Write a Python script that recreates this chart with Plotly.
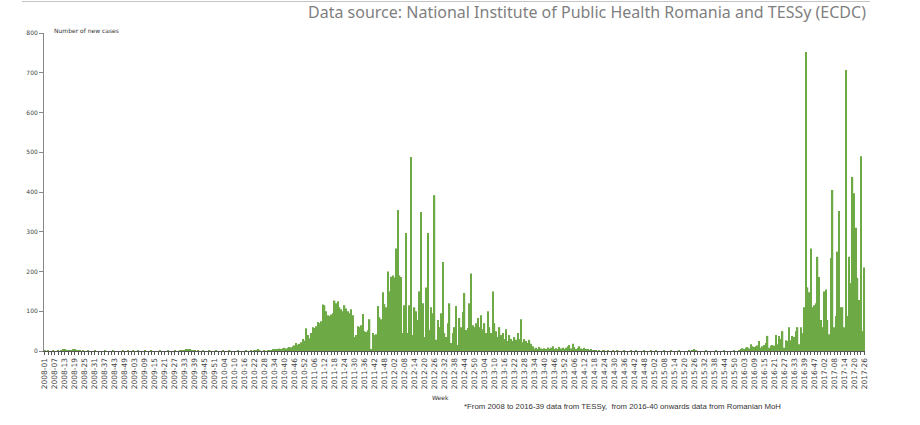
import plotly.graph_objects as go

# ---- categories (ISO weeks as shown on the axis) ----
weeks_per_year = {2008: 52, 2009: 53, 2010: 52, 2011: 52, 2012: 52, 2013: 52, 2014: 52, 2015: 53}
weeks_2016 = list(range(1, 40)) + list(range(42, 53))
weeks_2017 = list(range(2, 27))

categories = []
for y, n in weeks_per_year.items():
    categories += [f"{y}-{w:02d}" for w in range(1, n + 1)]
categories += [f"2016-{w:02d}" for w in weeks_2016]
categories += [f"2017-{w:02d}" for w in weeks_2017]

# ---- weekly number of new cases ----
cases_2008 = [1,0,1,0,0,1,0,0,1,0, 2,3,4,2,1,1,2,3,3,2, 1,1,0,1,0,0,1,0,0,0,
              1,0,0,0,0,0,1,0,0,0, 0,1,0,0,0,0,0,1,0,0, 1,0]
cases_2009 = [0,1,0,0,1,0,0,0,1,0, 0,0,1,0,0,0,0,1,0,0, 0,0,1,0,0,0,1,0,0,1,
              1,2,2,3,4,3,2,1,1,0, 1,0,0,1,0,0,0,1,0,0, 0,1,0]
cases_2010 = [0,0,1,0,0,0,1,0,0,0, 0,1,0,0,0,0,1,0,0,1, 0,1,2,3,1,0,0,1,0,1,
              1,2,3,4,3,5,6,5,7,8, 6,8,10,9,12,14,20,16,18,22, 30,26]
cases_2011 = [57,40,32,45,60,58,62,73,70,75, 117,115,100,90,88,92,95,127,120,125,
              110,105,100,115,107,100,95,105,90,35, 40,62,60,65,93,50,48,52,80,5,
              45,40,42,113,85,80,148,118,110,200, 150,187]
cases_2012 = [190,185,258,355,190,186,45,115,297,45, 115,488,40,110,100,78,150,350,120,35,
              160,297,53,110,95,392,28,78,60,95, 224,45,35,70,120,20,45,60,113,15,
              83,60,98,146,53,58,120,195,65,60, 70,83]
cases_2013 = [60,90,55,70,45,100,60,45,150,70, 50,35,60,40,45,30,55,25,40,30,
              25,35,28,45,30,80,22,30,25,20, 28,18,12,6,8,5,10,6,4,7,
              5,9,6,8,12,5,7,4,10,6, 8,5]
cases_2014 = [8,12,15,6,18,10,5,8,12,6, 4,8,3,5,2,3,1,2,1,0, 1,0,1,2,0,1,0,0,1,0,
              0,1,0,0,0,1,0,0,0,1, 0,0,1,0,0,0,0,1,0,0, 0,1]
cases_2015 = [0,0,1,0,0,0,0,1,0,0, 0,1,0,0,0,0,1,0,0,0, 0,0,1,0,2,3,1,0,0,0,
              0,0,1,0,0,0,0,0,1,0, 0,0,0,1,0,0,0,0,0,1, 0,0,1]
cases_2016 = [3,7,5,8,10,6,17,12,10,12, 14,25,8,12,15,20,38,8,13,15,
              13,40,17,38,30,50,8,27,25,60, 27,38,35,50,60,17,60,45,110,
              752,160,148,258,110,115,120,237,186,78,60]
cases_2017 = [150,155,78,42,234,405,60,88,250,352, 110,110,60,707,88,237,171,438,397,310,
              184,128,490,50,210]

cases = (cases_2008 + cases_2009 + cases_2010 + cases_2011 + cases_2012 +
         cases_2013 + cases_2014 + cases_2015 + cases_2016 + cases_2017)
assert len(cases) == len(categories), (len(cases), len(categories))

# tick labels every 6th week, tick marks every 2nd week
tick_labels = categories[::6]
tickvals = categories[::2]
ticktext = [c if c in tick_labels else "" for c in tickvals]

y_ticks = [0, 100, 200, 300, 400, 500, 600, 700, 800]

title_text = "Data source: National Institute of Public Health Romania and TESSy (ECDC)"
y_label = "Number of new cases"
x_label = "Week"
footnote = "*From 2008 to 2016-39 data from TESSy,  from 2016-40 onwards data from Romanian MoH"

fig = go.Figure(go.Bar(
    x=categories, y=cases,
    marker=dict(color="#6DAA45", line=dict(width=0)),
    hoverinfo="x+y",
))

fig.update_layout(
    width=920, height=425,
    margin=dict(l=44, r=55, t=33, b=74),
    paper_bgcolor="white", plot_bgcolor="white",
    bargap=0.15,
    showlegend=False,
    font=dict(family="DejaVu Sans", color="#333"),
)

fig.update_xaxes(
    type="category",
    tickmode="array", tickvals=tickvals, ticktext=ticktext,
    tickangle=-90,
    tickfont=dict(size=7.5, color="#444", family="DejaVu Sans"),
    ticks="outside", ticklen=3, tickcolor="#555", tickwidth=1,
    showline=True, linecolor="#555", linewidth=1,
    showgrid=False, zeroline=False,
)
fig.update_yaxes(
    range=[0, 800],
    tickmode="array", tickvals=y_ticks,
    tickfont=dict(size=6, color="#444", family="DejaVu Sans"),
    ticks="outside", ticklen=4, tickcolor="#888", tickwidth=1,
    showline=True, linecolor="#888", linewidth=1,
    showgrid=False, zeroline=False,
)

fig.add_shape(type="line", xref="paper", yref="paper",
              x0=-0.0268, x1=1.006, y0=1.099, y1=1.099,
              line=dict(color="#c4c4c4", width=1.2))

fig.add_annotation(text=title_text, xref="paper", yref="paper",
                   x=1.0037, y=1.0669, xanchor="right", yanchor="middle",
                   showarrow=False,
                   font=dict(size=16, color="#7f7f7f", family="Noto Sans"))
fig.add_annotation(text=y_label, xref="paper", yref="paper",
                   x=0.0097, y=1.0094, xanchor="left", yanchor="middle",
                   showarrow=False,
                   font=dict(size=6, color="#333", family="DejaVu Sans"))
fig.add_annotation(text=x_label, xref="paper", yref="paper",
                   x=0.4829, y=-0.1447, xanchor="center", yanchor="middle",
                   showarrow=False,
                   font=dict(size=6, color="#333", family="DejaVu Sans"))
fig.add_annotation(text=footnote, xref="paper", yref="paper",
                   x=0.5091, y=-0.1761, xanchor="left", yanchor="middle",
                   showarrow=False,
                   font=dict(size=7.8, color="#333", family="Liberation Sans"))

fig.write_html("out.html",
               config={"displayModeBar": False},
               post_script="document.body.style.margin='0px';document.body.style.overflow='hidden';")
